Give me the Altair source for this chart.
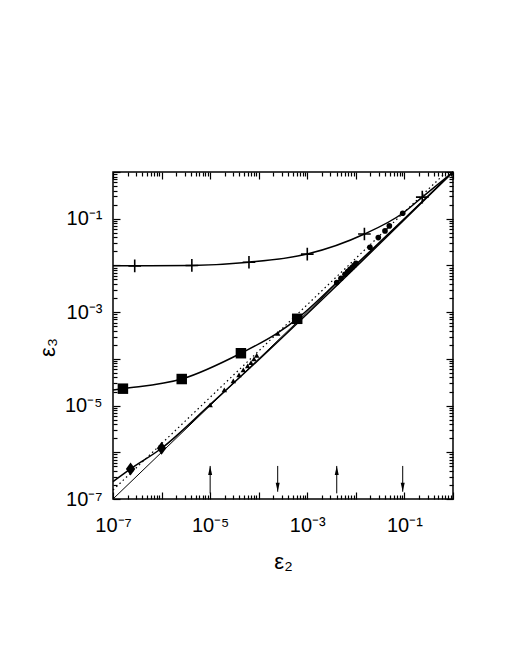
import altair as alt
import pandas as pd

# ---------------- data ----------------
diag_x = [1e-7, 1.0]
diag_y = [1e-7, 1.0]

dot_x = [1e-7, 0.73]
dot_y = [1.56e-7, 1.0]

plus_line_x = [1e-7, 2.8e-7, 4.2e-6, 6.3e-5, 1.0e-3, 1.5e-2, 9.2e-2, 0.233, 1.0]
plus_line_y = [9.8e-3, 9.8e-3, 1.0e-2, 1.17e-2, 1.75e-2, 4.7e-2, 0.131, 0.29, 1.0]
plus_x = [2.8e-7, 4.2e-6, 6.3e-5, 1.0e-3, 1.5e-2, 0.233]
plus_y = [9.8e-3, 1.0e-2, 1.17e-2, 1.75e-2, 4.7e-2, 0.29]

sq_line_x = [1e-7, 1.6e-7, 2.6e-6, 4.3e-5, 2.46e-4, 6.2e-4, 5e-3, 1.0]
sq_line_y = [2.15e-5, 2.3e-5, 3.7e-5, 1.32e-4, 3.6e-4, 7.2e-4, 5.3e-3, 1.0]
sq_x = [1.6e-7, 2.6e-6, 4.3e-5, 6.2e-4]
sq_y = [2.3e-5, 3.7e-5, 1.32e-4, 7.2e-4]

dia_line_x = [1e-7, 2.3e-7, 1.0e-6, 1.0e-5, 1.0]
dia_line_y = [2.35e-7, 4.4e-7, 1.22e-6, 1.05e-5, 1.0]
dia_x = [2.3e-7, 1.0e-6]
dia_y = [4.4e-7, 1.22e-6]

tri_x = [1.0e-5, 1.96e-5, 3.0e-5, 3.93e-5, 4.82e-5, 5.93e-5, 6.93e-5, 8.0e-5, 9.1e-5, 2.46e-4]
tri_y = [1.03e-5, 2.16e-5, 3.36e-5, 4.52e-5, 5.78e-5, 7.05e-5, 8.3e-5, 9.95e-5, 1.19e-4, 3.53e-4]

circ_x = [4.04e-3, 4.94e-3, 5.98e-3, 6.79e-3, 7.59e-3, 8.46e-3, 9.29e-3, 1.007e-2,
          1.95e-2, 2.90e-2, 3.98e-2, 4.89e-2, 9.22e-2]
circ_y = [4.29e-3, 5.32e-3, 6.48e-3, 7.37e-3, 8.30e-3, 9.15e-3, 1.01e-2, 1.11e-2,
          2.45e-2, 3.94e-2, 5.48e-2, 7.01e-2, 1.31e-1]

arrow_up_x = [1.0e-5, 4.04e-3]
arrow_up_tail = [1.32e-7, 1.32e-7]
arrow_up_tip = [5.1e-7, 5.1e-7]
arrow_down_x = [2.46e-4, 9.22e-2]
arrow_down_tail = [5.1e-7, 5.1e-7]
arrow_down_tip = [1.43e-7, 1.43e-7]

# tick positions / labels
major_vals = [1e-7, 1e-6, 1e-5, 1e-4, 1e-3, 1e-2, 1e-1, 1.0]
minor_vals = [k * m for m in [1e-7, 1e-6, 1e-5, 1e-4, 1e-3, 1e-2, 1e-1] for k in range(2, 10)]
label_vals = [1e-7, 1e-5, 1e-3, 1e-1]
label_text = {-7: "10⁻⁷", -5: "10⁻⁵", -3: "10⁻³", -1: "10⁻¹"}

FONT = "Liberation Sans"
label_expr = " : ".join(
    [f"round(log(datum.value)/LN10) == {e} ? '{t}'" for e, t in label_text.items()]
) + " : ''"


def df(x, y):
    return pd.DataFrame({"x": x, "y": y})


xs = alt.Scale(type="log", domain=[1e-7, 1.0], nice=False)
ys = alt.Scale(type="log", domain=[1e-7, 1.0], nice=False)


def label_axis(orient, title, **kw):
    return alt.Axis(orient=orient, values=label_vals, ticks=False, tickSize=0, domain=False,
                    grid=False, labelExpr=label_expr, labelFont=FONT, labelFontSize=20,
                    labelColor="black", labelOverlap=False, labelFlush=False,
                    title=title, titleFont=FONT, titleFontSize=22, titleFontWeight="normal",
                    titleColor="black", **kw)


def tick_axis(orient, vals, size):
    # negative tick size -> ticks point into the plot
    return alt.Axis(orient=orient, values=vals, labels=False, domain=False, grid=False,
                    ticks=True, tickSize={"expr": str(-size)}, tickColor="black",
                    tickWidth=1.2, title=None)


x_lab = label_axis("bottom", "ε₂", labelPadding=16, titleY=52, titleBaseline="top")
y_lab = label_axis("left", "ε₃", labelPadding=11, titleX=-66, titleY=175,
                   titleBaseline="middle", titleAngle=270)

diag = alt.Chart(df(diag_x, diag_y)).mark_line(color="black", strokeWidth=1).encode(
    x=alt.X("x:Q", scale=xs, axis=x_lab), y=alt.Y("y:Q", scale=ys, axis=y_lab))

dotted = alt.Chart(df(dot_x, dot_y)).mark_line(color="black", strokeWidth=1.2,
                                               strokeDash=[1.5, 3]).encode(
    x=alt.X("x:Q", scale=xs, axis=tick_axis("bottom", major_vals, 7)),
    y=alt.Y("y:Q", scale=ys, axis=tick_axis("left", major_vals, 7)))

plus_line = alt.Chart(df(plus_line_x, plus_line_y)).mark_line(
    color="black", strokeWidth=1.5, interpolate="monotone").encode(
    x=alt.X("x:Q", scale=xs, axis=tick_axis("bottom", minor_vals, 4)),
    y=alt.Y("y:Q", scale=ys, axis=tick_axis("left", minor_vals, 4)))

sq_line = alt.Chart(df(sq_line_x, sq_line_y)).mark_line(
    color="black", strokeWidth=1.5, interpolate="monotone").encode(
    x=alt.X("x:Q", scale=xs, axis=tick_axis("top", major_vals, 7)),
    y=alt.Y("y:Q", scale=ys, axis=tick_axis("right", major_vals, 7)))

dia_line = alt.Chart(df(dia_line_x, dia_line_y)).mark_line(
    color="black", strokeWidth=1.5, interpolate="monotone").encode(
    x=alt.X("x:Q", scale=xs, axis=tick_axis("top", minor_vals, 4)),
    y=alt.Y("y:Q", scale=ys, axis=tick_axis("right", minor_vals, 4)))


def pts(x, y, **mk):
    return alt.Chart(df(x, y)).mark_point(**mk).encode(
        x=alt.X("x:Q", scale=xs, axis=None), y=alt.Y("y:Q", scale=ys, axis=None))


plus_pts = pts(plus_x, plus_y, shape="M-1,0L1,0M0,-1L0,1", size=160, filled=False,
               color="black", strokeWidth=1.6, opacity=1)
sq_pts = pts(sq_x, sq_y, shape="square", size=110, filled=True, color="black", opacity=1)
dia_pts = pts(dia_x, dia_y, shape="M0,-1L0.72,0L0,1L-0.72,0Z", size=170, filled=True,
              color="black", opacity=1)
tri_pts = pts(tri_x, tri_y, shape="triangle-up", size=30, filled=True, color="black", opacity=1)
circ_pts = pts(circ_x, circ_y, shape="circle", size=32, filled=True, color="black", opacity=1)


def arrows(x, tail, tip, head):
    d = pd.DataFrame({"x": x, "y": tail, "y2": tip})
    rule = alt.Chart(d).mark_rule(color="black", strokeWidth=1).encode(
        x=alt.X("x:Q", scale=xs, axis=None), y=alt.Y("y:Q", scale=ys, axis=None),
        y2=alt.Y2("y2:Q"))
    hd = alt.Chart(pd.DataFrame({"x": x, "y": tip})).mark_point(
        shape=head, size=100, filled=True, color="black", opacity=1).encode(
        x=alt.X("x:Q", scale=xs, axis=None), y=alt.Y("y:Q", scale=ys, axis=None))
    return [rule, hd]


up = arrows(arrow_up_x, arrow_up_tail, arrow_up_tip, "M0,0L0.4,1.8L-0.4,1.8Z")
down = arrows(arrow_down_x, arrow_down_tail, arrow_down_tip, "M0,0L0.4,-1.8L-0.4,-1.8Z")

chart = alt.layer(
    diag, dotted, plus_line, sq_line, dia_line,
    plus_pts, sq_pts, dia_pts, tri_pts, circ_pts, *up, *down
).resolve_axis(x="independent", y="independent").properties(
    width=340, height=327,
    autosize=alt.AutoSizeParams(type="none"),
    padding={"left": 105, "top": 164, "right": 57, "bottom": 150},
    background="white",
).configure_view(stroke="black", strokeWidth=1.5)

chart.save("out.html", embed_options={"renderer": "svg", "actions": False})
